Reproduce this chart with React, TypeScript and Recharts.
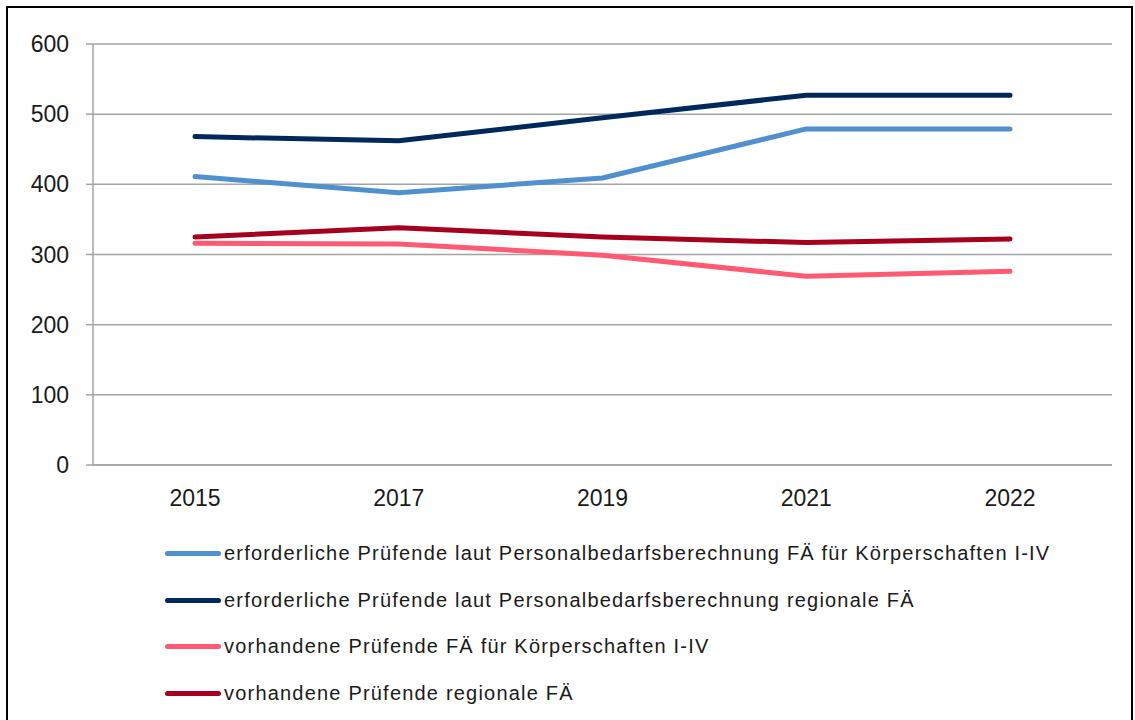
import React from "react";
import { LineChart, Line, XAxis, YAxis, CartesianGrid } from "recharts";

const years = ["2015", "2017", "2019", "2021", "2022"];
const erforderlichKoerperschaften = [411, 388, 409, 479, 479];
const erforderlichRegional = [468, 462, 495, 527, 527];
const vorhandenKoerperschaften = [316, 315, 299, 269, 276];
const vorhandenRegional = [325, 338, 325, 317, 322];
const yTicks = [0, 100, 200, 300, 400, 500, 600];

const seriesInfo = [
  { key: "a", name: "erforderliche Prüfende laut Personalbedarfsberechnung FÄ für Körperschaften I-IV", color: "#4F90CD" },
  { key: "b", name: "erforderliche Prüfende laut Personalbedarfsberechnung regionale FÄ", color: "#00285A" },
  { key: "c", name: "vorhandene Prüfende FÄ für Körperschaften I-IV", color: "#FF5A73" },
  { key: "d", name: "vorhandene Prüfende regionale FÄ", color: "#A6001E" },
];

const data = years.map((year, i) => ({
  year,
  a: erforderlichKoerperschaften[i],
  b: erforderlichRegional[i],
  c: vorhandenKoerperschaften[i],
  d: vorhandenRegional[i],
}));

const GRID = "#A3A3A3";
const FONT = "'Liberation Sans', Arial, sans-serif";

function ChartLegend() {
  return (
    <div style={{ fontFamily: FONT, fontSize: 20, letterSpacing: 1.2, color: "#1a1a1a" }}>
      {seriesInfo.map((s) => (
        <div key={s.key} style={{ display: "flex", alignItems: "center", height: 46.7 }}>
          <div style={{ width: 56, height: 5, borderRadius: 3, background: s.color, marginRight: 3 }} />
          <span>{s.name}</span>
        </div>
      ))}
    </div>
  );
}

export default function App() {
  return (
    <div style={{ position: "relative", width: 1135, height: 720 }}>
      <style>{"body{margin:0}"}</style>
      <div
        style={{
          position: "absolute",
          left: 6,
          top: 6,
          width: 1127,
          height: 720,
          border: "2px solid #000",
          boxSizing: "border-box",
        }}
      />
      <div style={{ position: "absolute", left: 0, top: 0 }}>
        <LineChart
          width={1135}
          height={520}
          data={data}
          margin={{ top: 44, right: 23, left: 0, bottom: 15 }}
        >
          <CartesianGrid vertical={false} stroke={GRID} strokeWidth={1.5} />
          <XAxis
            dataKey="year"
            padding={{ left: 102, right: 102 }}
            axisLine={{ stroke: GRID, strokeWidth: 1.5 }}
            tickLine={false}
            tick={{ fill: "#1a1a1a", fontSize: 23, fontFamily: FONT }}
            tickMargin={19}
            height={40}
          />
          <YAxis
            domain={[0, 600]}
            ticks={yTicks}
            width={93}
            axisLine={{ stroke: GRID, strokeWidth: 1.5 }}
            tickLine={{ stroke: GRID, strokeWidth: 1.5 }}
            tickSize={7}
            tickMargin={17}
            tick={{ fill: "#1a1a1a", fontSize: 23, fontFamily: FONT }}
          />
          {seriesInfo.map((s) => (
            <Line
              key={s.key}
              type="linear"
              dataKey={s.key}
              name={s.name}
              stroke={s.color}
              strokeWidth={5}
              strokeLinecap="round"
              strokeLinejoin="round"
              dot={false}
              activeDot={false}
              isAnimationActive={false}
            />
          ))}
        </LineChart>
      </div>
      <div style={{ position: "absolute", left: 165, top: 530 }}>
        <ChartLegend />
      </div>
    </div>
  );
}
